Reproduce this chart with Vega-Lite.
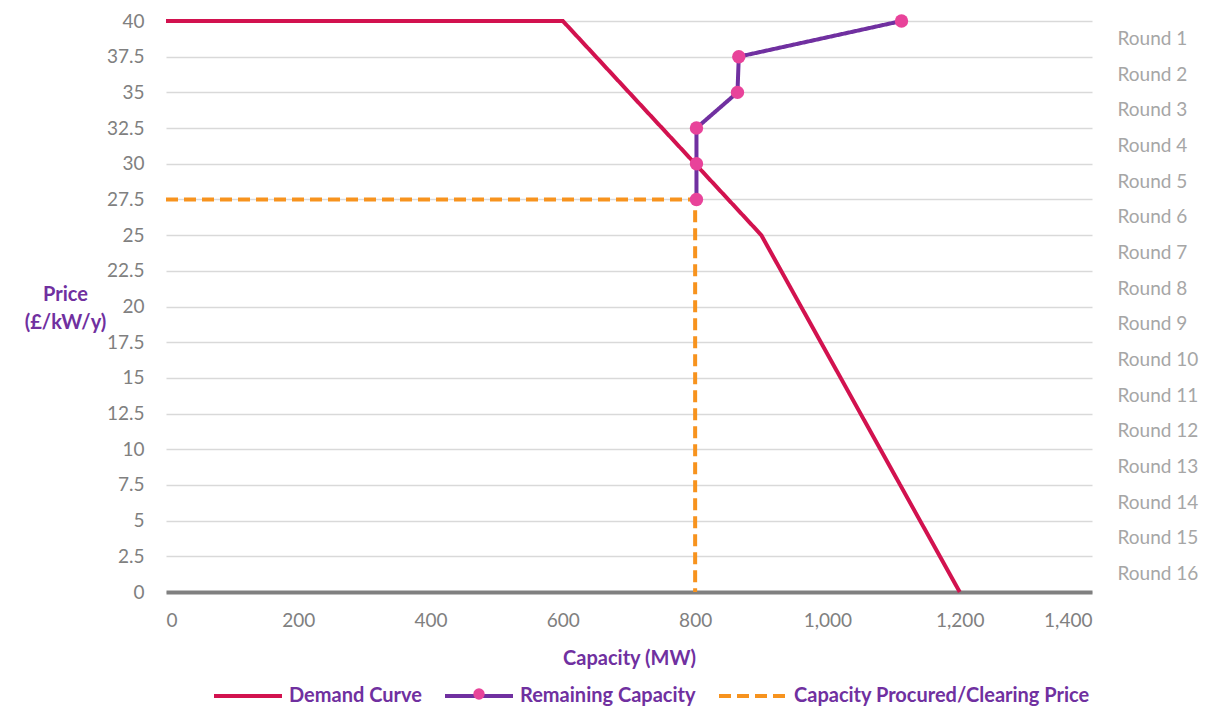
{
  "$schema": "https://vega.github.io/schema/vega-lite/v6.json",
  "width": 926,
  "height": 571,
  "autosize": {"type": "none"},
  "padding": {"left": 166, "top": 21, "right": 117, "bottom": 116},
  "background": "white",
  "config": {
    "font": "Lato",
    "view": {"stroke": null},
    "axis": {"labelFont": "Lato", "titleFont": "Lato"},
    "legend": {"labelFont": "Lato"}
  },
  "datasets": {
    "curves": [
      {"series": "Demand Curve", "step": 1, "capacity": 0, "price": 40},
      {"series": "Demand Curve", "step": 2, "capacity": 600, "price": 40},
      {"series": "Demand Curve", "step": 3, "capacity": 900, "price": 25},
      {"series": "Demand Curve", "step": 4, "capacity": 1200, "price": 0},
      {"series": "Remaining Capacity", "step": 1, "capacity": 1112, "price": 40},
      {"series": "Remaining Capacity", "step": 2, "capacity": 866, "price": 37.5},
      {"series": "Remaining Capacity", "step": 3, "capacity": 864, "price": 35},
      {"series": "Remaining Capacity", "step": 4, "capacity": 802, "price": 32.5},
      {"series": "Remaining Capacity", "step": 5, "capacity": 802, "price": 30},
      {"series": "Remaining Capacity", "step": 6, "capacity": 802, "price": 27.5},
      {"series": "Capacity Procured/Clearing Price", "step": 1, "capacity": 0, "price": 27.5},
      {"series": "Capacity Procured/Clearing Price", "step": 2, "capacity": 800, "price": 27.5},
      {"series": "Capacity Procured/Clearing Price", "step": 3, "capacity": 800, "price": 0}
    ],
    "rounds": [
      {"round": "Round 1"}, {"round": "Round 2"}, {"round": "Round 3"}, {"round": "Round 4"},
      {"round": "Round 5"}, {"round": "Round 6"}, {"round": "Round 7"}, {"round": "Round 8"},
      {"round": "Round 9"}, {"round": "Round 10"}, {"round": "Round 11"}, {"round": "Round 12"},
      {"round": "Round 13"}, {"round": "Round 14"}, {"round": "Round 15"}, {"round": "Round 16"}
    ]
  },
  "layer": [
    {
      "data": {"name": "curves"},
      "encoding": {
        "x": {
          "field": "capacity",
          "type": "quantitative",
          "scale": {"domain": [0, 1400], "nice": false},
          "axis": {
            "title": "Capacity (MW)",
            "values": [0, 200, 400, 600, 800, 1000, 1200, 1400],
            "format": ",.0f",
            "grid": false,
            "ticks": false,
            "domainColor": "#808080",
            "domainWidth": 4,
            "labelColor": "#808080",
            "labelFontSize": 19,
            "labelBaseline": "middle",
            "labelPadding": 28,
            "titleColor": "#7030A0",
            "titleFontSize": 20,
            "titleFontWeight": "bold",
            "titleBaseline": "middle",
            "titleY": 66
          }
        },
        "y": {
          "field": "price",
          "type": "quantitative",
          "scale": {"domain": [0, 40], "nice": false},
          "axis": {
            "title": ["Price", "(£/kW/y)"],
            "values": [0, 2.5, 5, 7.5, 10, 12.5, 15, 17.5, 20, 22.5, 25, 27.5, 30, 32.5, 35, 37.5, 40],
            "format": ".1~f",
            "domain": false,
            "ticks": false,
            "grid": true,
            "gridColor": "#D9D9D9",
            "gridWidth": 1.5,
            "labelColor": "#808080",
            "labelFontSize": 19,
            "labelPadding": 22,
            "titleColor": "#7030A0",
            "titleFontSize": 20,
            "titleFontWeight": "bold",
            "titleAngle": 0,
            "titleAlign": "center",
            "titleBaseline": "middle",
            "titleLineHeight": 28,
            "titleX": -101,
            "titleY": 273
          }
        }
      },
      "layer": [
        {
          "mark": {"type": "line", "strokeCap": "butt"},
          "encoding": {
            "order": {"field": "step", "type": "quantitative"},
            "strokeWidth": {
              "field": "series",
              "type": "nominal",
              "scale": {
                "domain": ["Demand Curve", "Remaining Capacity", "Capacity Procured/Clearing Price"],
                "range": [4, 4, 5]
              },
              "legend": null
            },
            "color": {
              "field": "series",
              "type": "nominal",
              "scale": {
                "domain": ["Demand Curve", "Remaining Capacity", "Capacity Procured/Clearing Price"],
                "range": ["#D2124F", "#7030A0", "#F7931E"]
              },
              "legend": {
                "title": null,
                "orient": "none",
                "direction": "horizontal",
                "legendX": 46,
                "legendY": 639,
                "symbolType": "stroke",
                "symbolSize": 4624,
                "symbolStrokeWidth": 6,
                "labelColor": "#7030A0",
                "labelFontSize": 20,
                "labelFontWeight": "bold",
                "labelOffset": 5,
                "labelLimit": 0,
                "columnPadding": 15
              }
            },
            "strokeDash": {
              "field": "series",
              "type": "nominal",
              "scale": {
                "domain": ["Demand Curve", "Remaining Capacity", "Capacity Procured/Clearing Price"],
                "range": [[1, 0], [1, 0], [12, 6]]
              },
              "legend": {
                "title": null,
                "orient": "none",
                "direction": "horizontal",
                "legendX": 46,
                "legendY": 639,
                "symbolType": "stroke",
                "symbolSize": 4624,
                "symbolStrokeWidth": 6,
                "labelColor": "#7030A0",
                "labelFontSize": 20,
                "labelFontWeight": "bold",
                "labelOffset": 5,
                "labelLimit": 0,
                "columnPadding": 15
              }
            }
          }
        },
        {
          "transform": [{"filter": "datum.series === 'Remaining Capacity'"}],
          "mark": {"type": "point", "filled": true, "size": 180, "opacity": 1},
          "encoding": {
            "fill": {
              "field": "series",
              "type": "nominal",
              "scale": {"range": ["#E8439A"]},
              "legend": {
                "title": null,
                "orient": "none",
                "legendX": 307,
                "legendY": 667,
                "symbolType": "circle",
                "symbolSize": 130,
                "symbolStrokeWidth": 0,
                "labelExpr": "''"
              }
            }
          }
        }
      ]
    },
    {
      "data": {"name": "rounds"},
      "mark": {"type": "point", "opacity": 0},
      "encoding": {
        "y": {
          "field": "round",
          "type": "nominal",
          "sort": null,
          "scale": {"type": "band", "paddingInner": 0, "paddingOuter": 0},
          "axis": {
            "orient": "right",
            "title": null,
            "domain": false,
            "ticks": false,
            "grid": false,
            "labelColor": "#A6A6A6",
            "labelFontSize": 19,
            "labelPadding": 25
          }
        }
      }
    }
  ],
  "resolve": {"scale": {"y": "independent"}}
}
